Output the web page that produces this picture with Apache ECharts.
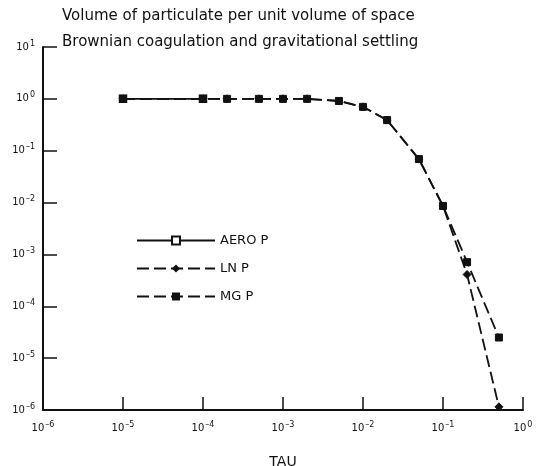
<!DOCTYPE html>
<html><head><meta charset="utf-8">
<script src="https://cdn.jsdelivr.net/npm/echarts@6/dist/echarts.min.js"></script>
<style>html,body{margin:0;padding:0;background:#fff}#c{width:543px;height:466px}</style>
</head><body><div id="c"></div>
<script>
const titleLines = ["Volume of particulate per unit volume of space", "Brownian coagulation and gravitational settling"];
const tau = [1e-5, 1e-4, 2e-4, 5e-4, 1e-3, 2e-3, 5e-3, 1e-2, 2e-2, 5e-2, 0.1, 0.2, 0.5];
const aeroTau = [1e-5, 1e-4];
const aeroP = [1.0, 1.0];
const lnP   = [1.0, 1.0, 1.0, 1.0, 1.0, 1.0, 0.91, 0.70, 0.39, 0.069, 0.0086, 4.1e-4, 1.15e-6];
const mgP   = [1.0, 1.0, 1.0, 1.0, 1.0, 1.0, 0.91, 0.70, 0.39, 0.069, 0.0086, 7.1e-4, 2.5e-5];
const seriesNames = ["AERO P", "LN P", "MG P"];
const xRange = [1e-6, 1];
const yRange = [1e-6, 10];
const xAxisName = "TAU";

const font = "'DejaVu Sans', sans-serif";
function pairs(xs, ys) { return xs.map((x, i) => [x, ys[i]]); }
function powLabel(v) {
  const e = Math.round(Math.log10(v));
  return '{b|10}{s|' + (e < 0 ? '\u2013' + (-e) : e) + '}';
}
const rich = {
  b: { fontFamily: font, fontSize: 10, color: '#111' },
  s: { fontFamily: font, fontSize: 8, color: '#111', verticalAlign: 'bottom', padding: [0, 0, 7, 1] }
};

const chart = echarts.init(document.getElementById('c'));
chart.setOption({
  animation: false,
  backgroundColor: '#fff',
  title: [
    { text: titleLines[0], left: 57, top: 4, textStyle: { fontFamily: font, fontSize: 15, fontWeight: 'normal', color: '#111' } },
    { text: titleLines[1], left: 57, top: 30, textStyle: { fontFamily: font, fontSize: 15, fontWeight: 'normal', color: '#111' } }
  ],
  legend: {
    orient: 'vertical', left: 131, top: 229, itemGap: 15, itemWidth: 78, itemHeight: 10,
    data: seriesNames,
    textStyle: { fontFamily: font, fontSize: 13, color: '#111', padding: [0, 0, 0, 0] }
  },
  grid: { left: 43, right: 20, top: 47, bottom: 56, containLabel: false, outerBoundsMode: 'none' },
  xAxis: {
    type: 'log', logBase: 10, min: xRange[0], max: xRange[1], splitNumber: 10,
    name: xAxisName, nameLocation: 'middle', nameGap: 45,
    nameTextStyle: { fontFamily: font, fontSize: 14, color: '#111' },
    axisLine: { lineStyle: { color: '#111', width: 2 } },
    axisTick: { inside: true, length: 13, lineStyle: { color: '#111', width: 1.5 } },
    minorTick: { show: false },
    splitLine: { show: false },
    axisLabel: { margin: 11, formatter: powLabel, rich: rich }
  },
  yAxis: {
    type: 'log', logBase: 10, min: yRange[0], max: yRange[1], splitNumber: 10,
    axisLine: { lineStyle: { color: '#111', width: 2 } },
    axisTick: { inside: true, length: 14, lineStyle: { color: '#111', width: 1.5 } },
    splitLine: { show: false },
    axisLabel: { margin: 8, formatter: powLabel, rich: rich }
  },
  series: [
    { name: seriesNames[0], type: 'line', data: pairs(aeroTau, aeroP), symbol: 'rect', symbolSize: 7,
      itemStyle: { color: '#fff', borderColor: '#111', borderWidth: 1.5 },
      lineStyle: { color: '#111', width: 1.8, type: 'solid' }, z: 1 },
    { name: seriesNames[1], type: 'line', data: pairs(tau, lnP), symbol: 'diamond', symbolSize: 8,
      itemStyle: { color: '#111', borderColor: '#111' },
      lineStyle: { color: '#111', width: 1.8, type: [12, 5] }, z: 2 },
    { name: seriesNames[2], type: 'line', data: pairs(tau, mgP), symbol: 'rect', symbolSize: 7,
      itemStyle: { color: '#111', borderColor: '#111' },
      lineStyle: { color: '#111', width: 1.8, type: [12, 5] }, z: 3 }
  ]
});
</script>
</body></html>
